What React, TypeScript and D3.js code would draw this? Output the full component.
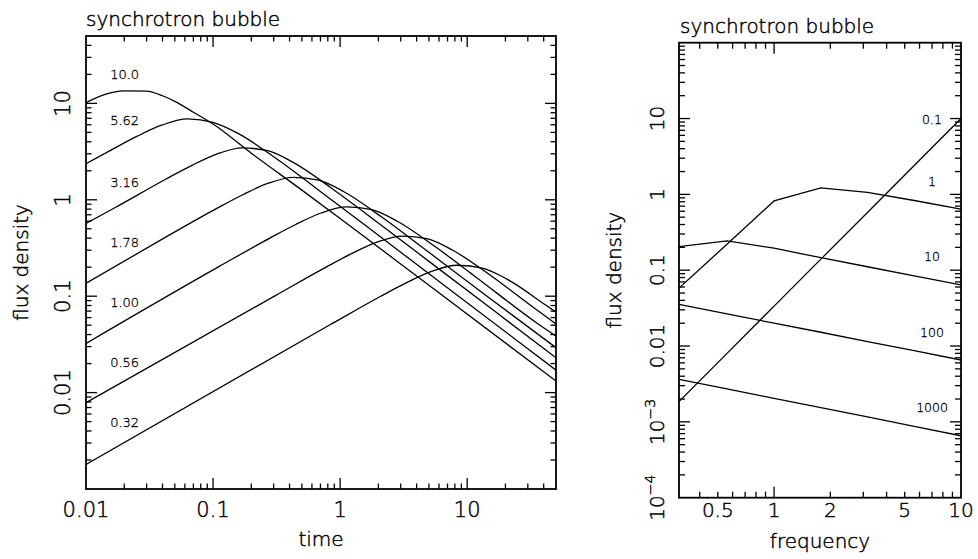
import React from "react";
import * as d3 from "d3";

const W = 978;
const H = 559;

// ---------- Left panel: light curves (flux density vs time) ----------
const curveLabels = ["10.0", "5.62", "3.16", "1.78", "1.00", "0.56", "0.32"];

const t_10_0 = [0.01, 0.02, 0.03, 0.04, 0.05, 0.07, 0.1, 0.2, 0.5, 1, 5, 50];
const f_10_0 = [10.2, 13.5, 13.4, 12.0, 10.5, 8.1, 6.1, 3.04, 1.26, 0.641, 0.1297, 0.0132];

const t_5_62 = [0.01, 0.01585, 0.0251, 0.0398, 0.0631, 0.1, 0.1585, 0.316, 0.631, 2.0, 6.31, 50];
const f_5_62 = [2.371, 3.296, 4.539, 5.97, 6.918, 6.35, 4.85, 2.661, 1.352, 0.4285, 0.1355, 0.0171];

const t_3_16 = [0.01, 0.017, 0.0427, 0.0676, 0.107, 0.17, 0.269, 0.427, 0.851, 1.698, 5.37, 17.0, 50];
const f_3_16 = [0.569, 0.8318, 1.644, 2.265, 2.979, 3.451, 3.228, 2.443, 1.327, 0.6745, 0.2138, 0.0676, 0.02296];

const t_1_78 = [0.01, 0.0427, 0.107, 0.17, 0.269, 0.427, 0.676, 1.072, 2.138, 4.266, 13.49, 50];
const f_1_78 = [0.1361, 0.4121, 0.8147, 1.122, 1.476, 1.71, 1.6, 1.211, 0.6577, 0.3342, 0.1059, 0.02924];

const t_1_00 = [0.01, 0.112, 0.282, 0.447, 0.708, 1.122, 1.778, 2.818, 5.62, 11.2, 35.5, 50];
const f_1_00 = [0.03236, 0.2037, 0.4027, 0.5546, 0.7295, 0.8453, 0.7907, 0.5984, 0.3251, 0.1652, 0.0524, 0.0385];

const t_0_56 = [0.01, 0.309, 0.776, 1.23, 1.95, 3.09, 4.9, 7.76, 15.5, 30.9, 50];
const f_0_56 = [0.00785, 0.1014, 0.2004, 0.2761, 0.3631, 0.4207, 0.3936, 0.2979, 0.1618, 0.0822, 0.0516];

const t_0_32 = [0.01, 0.832, 2.09, 3.31, 5.25, 8.32, 13.2, 20.9, 41.7, 50];
const f_0_32 = [0.0018, 0.0505, 0.0998, 0.1374, 0.1807, 0.2094, 0.1959, 0.1483, 0.0805, 0.0684];

const curveTimes = [t_10_0, t_5_62, t_3_16, t_1_78, t_1_00, t_0_56, t_0_32];
const curveFluxes = [f_10_0, f_5_62, f_3_16, f_1_78, f_1_00, f_0_56, f_0_32];

// label anchors in data units
const curveLabelTime = 0.0155;
const curveLabelFlux = [17.8, 5.93, 1.37, 0.326, 0.0778, 0.01854, 0.00436];

const leftXTickValues = [0.01, 0.1, 1, 10];
const leftXTickLabels = ["0.01", "0.1", "1", "10"];
const leftYTickValues = [0.01, 0.1, 1, 10];
const leftYTickLabels = ["0.01", "0.1", "1", "10"];

// ---------- Right panel: spectra (flux density vs frequency) ----------
const spectrumLabels = ["0.1", "1", "10", "100", "1000"];
const specFreq = [0.31, 0.56, 1.0, 1.78, 3.16, 5.62, 10];
const s_0_1 = [0.00185, 0.008, 0.0336, 0.14, 0.577, 2.4, 10.0];
const s_1 = [0.058, 0.22, 0.82, 1.22, 1.06, 0.83, 0.64];
const s_10 = [0.204, 0.243, 0.195, 0.146, 0.111, 0.084, 0.064];
const s_100 = [0.0355, 0.0266, 0.02, 0.0152, 0.01146, 0.00867, 0.00654];
const s_1000 = [0.00364, 0.00272, 0.00204, 0.00154, 0.00116, 0.00087, 0.000656];
const spectra = [s_0_1, s_1, s_10, s_100, s_1000];

const spectrumLabelFreq = 7.0;
const spectrumLabelFlux = [8.47, 1.29, 0.133, 0.01327, 0.00136];

const rightXTickValues = [0.5, 1, 2, 5, 10];
const rightXTickLabels = ["0.5", "1", "2", "5", "10"];
const rightYTickValues = [1e-4, 1e-3, 0.01, 0.1, 1, 10];
const rightYTickBase = ["10", "10", "0.01", "0.1", "1", "10"];
const rightYTickExp = ["−4", "−3", "", "", "", ""];

const FONT = "DejaVu Sans";
const WEIGHT = 300;

function logTicks(min: number, max: number) {
  const out: { v: number; major: boolean }[] = [];
  const k0 = Math.floor(Math.log10(min));
  const k1 = Math.ceil(Math.log10(max));
  for (let k = k0; k <= k1; k++) {
    for (let m = 1; m <= 9; m++) {
      const v = m * Math.pow(10, k);
      if (v > min * 1.0001 && v < max * 0.9999) out.push({ v, major: m === 1 });
    }
  }
  return out;
}

type Scale = d3.ScaleLogarithmic<number, number>;

function Frame({ x, y, majorLen, minorLen }: { x: Scale; y: Scale; majorLen: number; minorLen: number }) {
  const [x0, x1] = x.range();
  const [y0, y1] = y.range(); // y0 bottom, y1 top
  const xd = x.domain();
  const yd = y.domain();
  const xt = logTicks(xd[0], xd[1]);
  const yt = logTicks(yd[0], yd[1]);
  const sw = 1.3;
  return (
    <g stroke="#000" fill="none">
      {xt.map((t, i) => {
        const px = x(t.v);
        const len = t.major ? majorLen : minorLen;
        return (
          <g key={"x" + i}>
            <line x1={px} x2={px} y1={y0} y2={y0 - len} strokeWidth={sw} />
            <line x1={px} x2={px} y1={y1} y2={y1 + len} strokeWidth={sw} />
          </g>
        );
      })}
      {yt.map((t, i) => {
        const py = y(t.v);
        const len = t.major ? majorLen : minorLen;
        return (
          <g key={"y" + i}>
            <line x1={x0} x2={x0 + len} y1={py} y2={py} strokeWidth={sw} />
            <line x1={x1} x2={x1 - len} y1={py} y2={py} strokeWidth={sw} />
          </g>
        );
      })}
      <rect x={x0} y={y1} width={x1 - x0} height={y0 - y1} strokeWidth={1.8} />
    </g>
  );
}

export default function App() {
  // Left panel scales
  const lx = d3.scaleLog().domain([0.01, 50]).range([86, 556]);
  const ly = d3.scaleLog().domain([0.001, 50]).range([489, 36]);
  // Right panel scales
  const rx = d3.scaleLog().domain([0.31, 10]).range([679, 961]);
  const ry = d3.scaleLog().domain([1e-4, 100]).range([497.7, 42.7]);

  const leftLine = d3
    .line<[number, number]>()
    .x((d) => lx(d[0]))
    .y((d) => ly(d[1]))
    .curve(d3.curveMonotoneX);
  const rightLine = d3
    .line<[number, number]>()
    .x((d) => rx(d[0]))
    .y((d) => ry(d[1]))
    .curve(d3.curveLinear);

  return (
    <svg
      width={W}
      height={H}
      viewBox={`0 0 ${W} ${H}`}
      style={{ position: "absolute", left: 0, top: 0, background: "#fff" }}
    >
      <rect x={0} y={0} width={W} height={H} fill="#fff" />
      <defs>
        <clipPath id="clipL">
          <rect x={86} y={36} width={470} height={453} />
        </clipPath>
        <clipPath id="clipR">
          <rect x={679} y={42.7} width={282} height={455} />
        </clipPath>
      </defs>

      {/* ---------------- curves ---------------- */}
      <g clipPath="url(#clipL)" fill="none" stroke="#000" strokeWidth={1.3}>
        {curveTimes.map((ts, i) => (
          <path
            key={i}
            d={leftLine(ts.map((t, j) => [t, curveFluxes[i][j]] as [number, number])) || ""}
          />
        ))}
      </g>
      <Frame x={lx} y={ly} majorLen={11} minorLen={5.5} />

      <g clipPath="url(#clipR)" fill="none" stroke="#000" strokeWidth={1.3}>
        {spectra.map((s, i) => (
          <path key={i} d={rightLine(specFreq.map((f, j) => [f, s[j]] as [number, number])) || ""} />
        ))}
      </g>
      <Frame x={rx} y={ry} majorLen={11} minorLen={6} />

      {/* ---------------- text ---------------- */}
      <g fontFamily={FONT} fontWeight={WEIGHT} fill="#000" stroke="#000" strokeWidth={0.45}>
        <text x={86} y={26} fontSize={20}>
          synchrotron bubble
        </text>
        {curveLabels.map((lab, i) => (
          <text key={lab} x={lx(curveLabelTime)} y={ly(curveLabelFlux[i])} fontSize={13} strokeWidth={0.3}>
            {lab}
          </text>
        ))}
        {leftXTickValues.map((v, i) => (
          <text key={"lxt" + i} x={lx(v)} y={517} fontSize={21} textAnchor="middle">
            {leftXTickLabels[i]}
          </text>
        ))}
        {leftYTickValues.map((v, i) => (
          <text key={"lyt" + i} transform={`translate(70, ${ly(v)}) rotate(-90)`} fontSize={21} textAnchor="middle">
            {leftYTickLabels[i]}
          </text>
        ))}
        <text x={(86 + 556) / 2} y={546} fontSize={20} textAnchor="middle">
          time
        </text>
        <text transform={`translate(28, ${(36 + 489) / 2}) rotate(-90)`} fontSize={20} textAnchor="middle">
          flux density
        </text>

        <text x={680} y={33} fontSize={20}>
          synchrotron bubble
        </text>
        {spectrumLabels.map((lab, i) => (
          <text
            key={lab}
            x={rx(spectrumLabelFreq)}
            y={ry(spectrumLabelFlux[i])}
            fontSize={12.5}
            textAnchor="middle"
            strokeWidth={0.3}
          >
            {lab}
          </text>
        ))}
        {rightXTickValues.map((v, i) => (
          <text key={"rxt" + i} x={rx(v)} y={517} fontSize={20} textAnchor="middle">
            {rightXTickLabels[i]}
          </text>
        ))}
        {rightYTickValues.map((v, i) => (
          <text key={"ryt" + i} transform={`translate(664, ${ry(v)}) rotate(-90)`} fontSize={20} textAnchor="middle">
            <tspan>{rightYTickBase[i]}</tspan>
            {rightYTickExp[i] ? (
              <tspan dy={-9} fontSize={14}>
                {rightYTickExp[i]}
              </tspan>
            ) : null}
          </text>
        ))}
        <text x={820} y={548} fontSize={20} textAnchor="middle">
          frequency
        </text>
        <text transform={`translate(621, ${(42.7 + 497.7) / 2}) rotate(-90)`} fontSize={20} textAnchor="middle">
          flux density
        </text>
      </g>
    </svg>
  );
}
